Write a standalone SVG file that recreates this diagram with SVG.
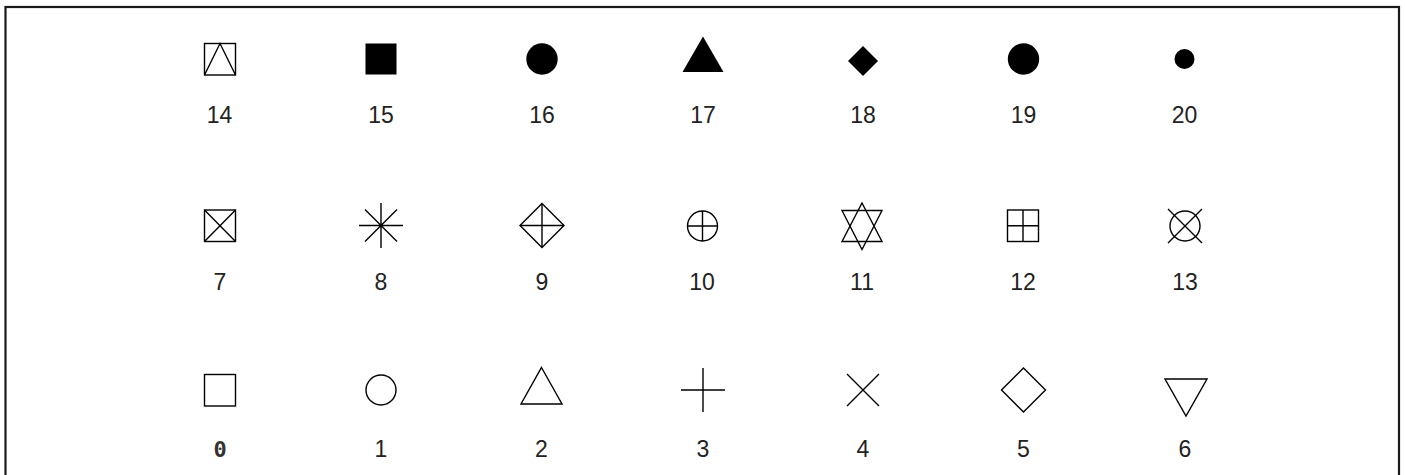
<svg xmlns="http://www.w3.org/2000/svg" width="1405" height="475" viewBox="0 0 1405 475">
<style>
.s{fill:none;stroke:#000;stroke-width:1.4}
.f{fill:#000;stroke:none}
.lbl{font-family:"Liberation Sans",Arial,sans-serif;font-size:23px;fill:#222;text-anchor:middle}
</style>
<rect x="0" y="0" width="1405" height="475" fill="#fff"/>
<rect x="5.5" y="7" width="1393.5" height="520" fill="none" stroke="#1a1a1a" stroke-width="2.2"/>
<g id="p14"><rect class="s" x="204.5" y="43.5" width="31" height="31.5"/><polyline class="s" points="204.5,75 220,43.5 235.5,75"/><text class="lbl" x="219.5" y="122.5">14</text></g>
<g id="p15"><rect class="f" x="365.5" y="43.5" width="31" height="31"/><text class="lbl" x="381" y="122.5">15</text></g>
<g id="p16"><circle class="f" cx="542" cy="59" r="15.7"/><text class="lbl" x="542" y="122.5">16</text></g>
<g id="p17"><polygon class="f" points="703,36.5 723.5,72 682.5,72"/><text class="lbl" x="703" y="122.5">17</text></g>
<g id="p18"><polygon class="f" points="863,46 878,61 863,76 848,61"/><text class="lbl" x="863" y="122.5">18</text></g>
<g id="p19"><circle class="f" cx="1023.5" cy="59" r="15.7"/><text class="lbl" x="1023.5" y="122.5">19</text></g>
<g id="p20"><circle class="f" cx="1184.5" cy="59" r="10"/><text class="lbl" x="1184.5" y="122.5">20</text></g>

<g id="p7"><rect class="s" x="204.5" y="210" width="31" height="31.5"/><path class="s" d="M204.5,210L235.5,241.5M235.5,210L204.5,241.5"/><text class="lbl" x="220" y="290">7</text></g>
<g id="p8"><path class="s" d="M381,203V248M359,225.5H403M365,209.5L397,241.5M397,209.5L365,241.5"/><text class="lbl" x="381" y="290">8</text></g>
<g id="p9"><polygon class="s" points="542,203.5 564,225.5 542,247.5 520,225.5"/><path class="s" d="M542,203.5V247.5M520,225.5H564"/><text class="lbl" x="542" y="290">9</text></g>
<g id="p10"><circle class="s" cx="702.5" cy="226" r="15"/><path class="s" d="M702.5,211V241M687.5,226H717.5"/><text class="lbl" x="702" y="290">10</text></g>
<g id="p11"><polygon class="s" points="862,203 882,241.5 842,241.5"/><polygon class="s" points="842,210.5 882,210.5 862,249.5"/><text class="lbl" x="862" y="290">11</text></g>
<g id="p12"><rect class="s" x="1007.5" y="210" width="31" height="31.5"/><path class="s" d="M1023,210V241.5M1007.5,225.75H1038.5"/><text class="lbl" x="1023" y="290">12</text></g>
<g id="p13"><circle class="s" cx="1185" cy="226" r="15"/><path class="s" d="M1168,209L1202,243M1202,209L1168,243"/><text class="lbl" x="1185" y="290">13</text></g>

<g id="p0"><rect class="s" x="204.5" y="374.5" width="31" height="31.5"/><text x="220" y="457" style="font-family:'DejaVu Sans Mono',monospace;font-size:22px;font-weight:bold;fill:#333;text-anchor:middle">0</text></g>
<g id="p1"><circle class="s" cx="381" cy="390" r="15"/><text class="lbl" x="381" y="457">1</text></g>
<g id="p2"><polygon class="s" points="541.5,367.5 562,404 521,404"/><text class="lbl" x="541.5" y="457">2</text></g>
<g id="p3"><path class="s" d="M703,368V412M681,390H725"/><text class="lbl" x="703" y="457">3</text></g>
<g id="p4"><path class="s" d="M847,374L879,406M879,374L847,406"/><text class="lbl" x="863" y="457">4</text></g>
<g id="p5"><polygon class="s" points="1023.5,368 1045.5,390 1023.5,412 1001.5,390"/><text class="lbl" x="1023.5" y="457">5</text></g>
<g id="p6"><polygon class="s" points="1165,379 1207,379 1186,416"/><text class="lbl" x="1185" y="457">6</text></g>
</svg>
